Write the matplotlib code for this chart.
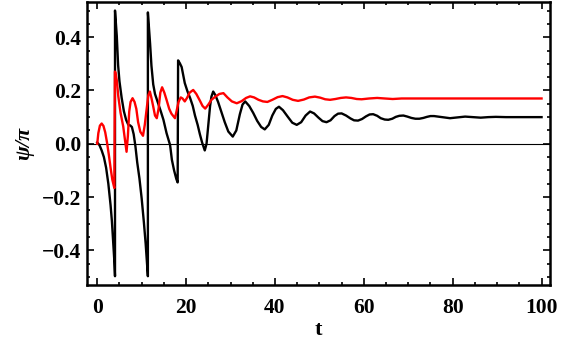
import numpy as np
import matplotlib.pyplot as plt
from matplotlib.ticker import MultipleLocator

# black curve (t, psi/pi)
t_black = [0, 0.5, 1.0, 1.5, 2.0, 2.5, 3.0, 3.3, 3.6, 3.85, 4.0,
           4.0, 4.2, 4.4, 4.7, 5.0, 5.5, 6.0, 6.5, 7.0, 7.4, 7.8, 8.2, 8.6, 9.0,
           9.5, 10.0, 10.5, 10.9, 11.2, 11.4,
           11.4, 11.6, 11.9, 12.2, 12.6, 13.0, 13.7, 14.3, 14.9, 15.6, 16.4, 16.8,
           17.3, 17.8, 18.1,
           18.2, 18.6, 19.0, 19.7, 20.3, 20.9, 21.5, 22.0, 22.6, 23.1, 23.6, 24.2,
           24.6, 25.0, 25.4, 25.7, 26.1, 26.6, 27.2, 28.0, 28.7, 29.5, 30.5, 31.3,
           32.1, 32.7, 33.3, 34.2, 35.1, 36.0, 36.9, 37.7, 38.6, 39.4, 40.2, 40.9,
           41.8, 42.9, 43.9, 44.9, 45.9, 46.9, 47.9, 48.8, 49.8, 50.7, 51.6, 52.5,
           53.4, 54.2, 55.0, 56.0, 57.0, 57.8, 58.7, 59.6, 60.5, 61.3, 62.1, 63.0,
           63.8, 64.7, 65.5, 66.4, 67.2, 68.0, 68.9, 69.8, 70.7, 71.6, 72.5, 73.4,
           74.2, 75.0, 75.8, 77.6, 79.4, 81.1, 82.8, 84.5, 86.3, 88.0, 89.7, 92.0,
           95.0, 100.0]
y_black = [0.005, -0.005, -0.025, -0.05, -0.09, -0.15, -0.23, -0.29, -0.37, -0.44, -0.497,
           0.50, 0.455, 0.405, 0.295, 0.235, 0.172, 0.122, 0.09, 0.071, 0.069, 0.063, 0.036, -0.01, -0.07,
           -0.13, -0.205, -0.295, -0.375, -0.445, -0.497,
           0.493, 0.445, 0.375, 0.293, 0.223, 0.187, 0.152, 0.122, 0.09, 0.04, -0.005, -0.06,
           -0.10, -0.132, -0.145,
           0.313, 0.302, 0.288, 0.228, 0.197, 0.172, 0.142, 0.106, 0.071, 0.036, 0.005, -0.025,
           0.0, 0.07, 0.142, 0.177, 0.196, 0.182, 0.157, 0.116, 0.081, 0.046, 0.027, 0.05,
           0.111, 0.147, 0.159, 0.142, 0.116, 0.086, 0.063, 0.054, 0.071, 0.106, 0.131, 0.139,
           0.126, 0.101, 0.079, 0.071, 0.081, 0.106, 0.121, 0.114, 0.098, 0.085, 0.081, 0.088,
           0.104, 0.113, 0.114, 0.106, 0.095, 0.088, 0.087, 0.093, 0.103, 0.11, 0.111, 0.105,
           0.096, 0.091, 0.09, 0.094, 0.101, 0.105, 0.106, 0.102, 0.097, 0.094, 0.094, 0.097,
           0.101, 0.104, 0.104, 0.1, 0.096, 0.099, 0.102, 0.1, 0.098, 0.1, 0.101, 0.1,
           0.1, 0.1]

# red curve
t_red = [0, 0.25, 0.6, 1.0, 1.4, 1.8, 2.2, 2.6, 3.0, 3.4, 3.85,
         3.98, 4.1, 4.4, 4.75, 5.25, 5.85, 6.2, 6.6, 6.9, 7.2, 7.5, 7.95, 8.4, 8.8,
         9.2, 9.7, 10.3, 10.7, 11.1, 11.5, 11.85, 12.2, 12.6, 13.0, 13.4, 13.8, 14.2,
         14.6, 15.1, 15.6, 16.2, 16.7, 17.5, 17.9, 18.3, 18.8, 19.2, 19.7, 20.2, 20.8,
         21.6, 22.3, 23.1, 23.7, 24.3, 25.0, 25.7, 26.6, 27.5, 28.4, 29.3, 30.3, 31.4,
         32.5, 33.5, 34.4, 35.3, 36.3, 37.3, 38.3, 39.4, 40.6, 41.7, 42.8, 44.0, 45.2,
         46.5, 47.7, 49.0, 50.2, 51.3, 52.4, 53.6, 54.8, 56.0, 57.2, 58.4, 59.5, 61.2,
         63.0, 64.7, 66.5, 68.5, 72.0, 100.0]
y_red = [0.0, 0.04, 0.068, 0.076, 0.067, 0.043, 0.005, -0.04, -0.09, -0.135, -0.166,
         0.271, 0.268, 0.238, 0.177, 0.116, 0.065, 0.02, -0.03, 0.03, 0.121, 0.157, 0.171, 0.157, 0.131,
         0.081, 0.045, 0.03, 0.071, 0.127, 0.182, 0.196, 0.172, 0.14, 0.106, 0.096, 0.131, 0.192,
         0.212, 0.192, 0.165, 0.131, 0.113, 0.096, 0.126, 0.157, 0.174, 0.17, 0.159, 0.172, 0.192,
         0.202, 0.187, 0.162, 0.142, 0.132, 0.147, 0.165, 0.177, 0.187, 0.19, 0.174, 0.159, 0.152,
         0.16, 0.172, 0.178, 0.174, 0.165, 0.159, 0.157, 0.165, 0.175, 0.179, 0.174, 0.165, 0.161,
         0.166, 0.174, 0.177, 0.173, 0.167, 0.165, 0.168, 0.172, 0.174, 0.172, 0.168, 0.167, 0.17,
         0.172, 0.17, 0.168, 0.17, 0.17, 0.17]

fig = plt.figure(figsize=(5.61, 3.54), dpi=100)
ax = fig.add_axes([0.1551, 0.1949, 0.8253, 0.7994])

ax.axhline(0, color='black', lw=0.8, zorder=1)
ax.plot(t_black, y_black, color='black', lw=1.7, zorder=2)
ax.plot(t_red, y_red, color='#ff0000', lw=1.7, zorder=3)

ax.set_xlim(-2.3, 101.9)
ax.set_ylim(-0.53, 0.532)

ax.xaxis.set_major_locator(MultipleLocator(20))
ax.xaxis.set_minor_locator(MultipleLocator(5))
ax.yaxis.set_major_locator(MultipleLocator(0.2))
ax.yaxis.set_minor_locator(MultipleLocator(0.05))
ax.tick_params(which='both', direction='in', top=True, right=True, width=1.2)
ax.tick_params(which='major', length=5)
ax.tick_params(axis='x', which='major', pad=9)
ax.tick_params(axis='y', which='major', pad=4)
ax.tick_params(which='minor', length=2.5)
ax.set_xticks([0, 20, 40, 60, 80, 100])
ax.set_xticklabels(['0', '20', '40', '60', '80', '100'])
ax.set_yticks([-0.4, -0.2, 0.0, 0.2, 0.4])
ax.set_yticklabels(['\u22120.4', '\u22120.2', '0.0', '0.2', '0.4'])
for lab in ax.get_xticklabels() + ax.get_yticklabels():
    lab.set_family('Liberation Serif')
    lab.set_fontweight('bold')
    lab.set_fontsize(15.5)

for s in ax.spines.values():
    s.set_linewidth(1.8)

ax.set_xlabel('t', family='Liberation Serif', fontweight='bold', fontsize=16, labelpad=2)
ax.set_ylabel('\u03c8/\u03c0', family='Liberation Serif', fontweight='bold',
              fontstyle='italic', fontsize=16, labelpad=6)

fig.savefig('out.png', dpi=100)
